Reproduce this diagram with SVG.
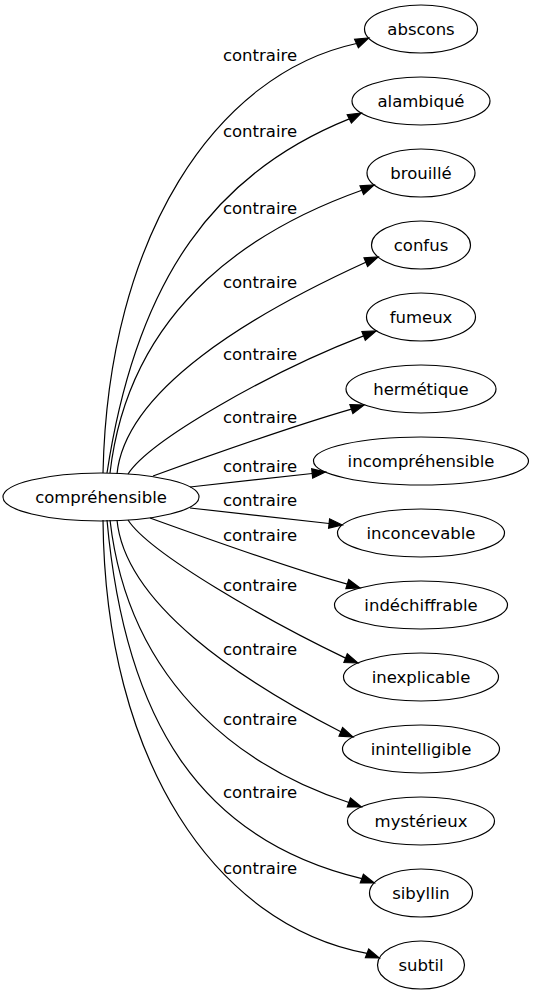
<svg xmlns="http://www.w3.org/2000/svg" width="534" height="995" viewBox="0 0 534 995">
<style>
.n ellipse{fill:none;stroke:#000;stroke-width:1.2}
text{font-family:"DejaVu Sans",sans-serif;font-size:16.5px;fill:#000}
.n text{text-anchor:middle}
.e path{fill:none;stroke:#000;stroke-width:1.2}
.e polygon{fill:#000;stroke:#000;stroke-width:1.2}
.l text{text-anchor:middle}
</style>
<rect width="534" height="995" fill="#fff"/>
<g id="edges" class="e">
<path d="M103,473 C108,236 216,74 356.5,43.5"/><polygon points="368.6,38 358.4,47.7 354.6,39.2"/>
<path d="M107,473 C137,275 217.8,171.8 349.3,118.9"/><polygon points="361.2,113 351.4,123.1 347.2,114.7"/>
<path d="M110,473 C130,300 264,225 361.8,190.2"/><polygon points="374,185 363.6,194.5 360,185.9"/>
<path d="M117,474 C125,390 250,315 365.8,262.2"/><polygon points="378,257 367.6,266.5 364,257.9"/>
<path d="M128,474 C150,440 270,372 363.6,335.9"/><polygon points="376,331 365.3,340.3 361.9,331.5"/>
<path d="M153,476 C200,459 300,424 351.4,409.1"/><polygon points="364,405 352.9,413.6 349.9,404.6"/>
<path d="M190,487 L312.2,473.5"/><polygon points="325.4,472 312.7,478.2 311.7,468.8"/>
<path d="M190,508 L329.1,523.5"/><polygon points="342.3,525 328.6,528.2 329.6,518.8"/>
<path d="M150,518 C197,535 298,571 347.3,584.1"/><polygon points="360,588 345.9,588.6 348.7,579.6"/>
<path d="M128,520 C150,554 270,622 345.6,658.1"/><polygon points="358,663 343.9,662.5 347.3,653.7"/>
<path d="M117,520 C125,604 240,680 340.8,731.8"/><polygon points="353,737 339,736.1 342.6,727.5"/>
<path d="M110,520 C130,694 255,772 348.9,802.5"/><polygon points="361.4,807 347.3,806.9 350.5,798.1"/>
<path d="M107,520 C125,720 200,840 361.8,878.6"/><polygon points="374.3,883 360.3,883 363.4,874.2"/>
<path d="M103,520 C105,760 215,925 367,953.3"/><polygon points="379.4,958 365.4,957.7 368.7,948.9"/>
</g>
<g id="edge-labels" class="l">
<text x="260" y="61">contraire</text>
<text x="260" y="137">contraire</text>
<text x="260" y="214">contraire</text>
<text x="260" y="288">contraire</text>
<text x="260" y="360">contraire</text>
<text x="260" y="423">contraire</text>
<text x="260" y="472">contraire</text>
<text x="260" y="506">contraire</text>
<text x="260" y="541">contraire</text>
<text x="260" y="591">contraire</text>
<text x="260" y="655">contraire</text>
<text x="260" y="725">contraire</text>
<text x="260" y="798">contraire</text>
<text x="260" y="874">contraire</text>
</g>
<g id="comprehensible" class="n"><ellipse cx="101" cy="497" rx="98" ry="24"/><text x="101" y="502.5">compréhensible</text></g>
<g id="abscons" class="n"><ellipse cx="421" cy="29" rx="56.5" ry="24"/><text x="421" y="34.5">abscons</text></g>
<g id="alambique" class="n"><ellipse cx="421" cy="101" rx="69" ry="24"/><text x="421" y="106.5">alambiqué</text></g>
<g id="brouille" class="n"><ellipse cx="421" cy="173" rx="54" ry="24"/><text x="421" y="178.5">brouillé</text></g>
<g id="confus" class="n"><ellipse cx="421" cy="245" rx="49.5" ry="24"/><text x="421" y="250.5">confus</text></g>
<g id="fumeux" class="n"><ellipse cx="421" cy="317" rx="54.5" ry="24"/><text x="421" y="322.5">fumeux</text></g>
<g id="hermetique" class="n"><ellipse cx="421" cy="389" rx="75" ry="24"/><text x="421" y="394.5">hermétique</text></g>
<g id="incomprehensible" class="n"><ellipse cx="421" cy="461" rx="107.5" ry="24"/><text x="421" y="466.5">incompréhensible</text></g>
<g id="inconcevable" class="n"><ellipse cx="421" cy="533" rx="83.5" ry="24"/><text x="421" y="538.5">inconcevable</text></g>
<g id="indechiffrable" class="n"><ellipse cx="421" cy="605" rx="86.5" ry="24"/><text x="421" y="610.5">indéchiffrable</text></g>
<g id="inexplicable" class="n"><ellipse cx="421" cy="677" rx="77.5" ry="24"/><text x="421" y="682.5">inexplicable</text></g>
<g id="inintelligible" class="n"><ellipse cx="421" cy="749" rx="78.5" ry="24"/><text x="421" y="754.5">inintelligible</text></g>
<g id="mysterieux" class="n"><ellipse cx="421" cy="821" rx="73.5" ry="24"/><text x="421" y="826.5">mystérieux</text></g>
<g id="sibyllin" class="n"><ellipse cx="421" cy="893" rx="51.5" ry="24"/><text x="421" y="898.5">sibyllin</text></g>
<g id="subtil" class="n"><ellipse cx="421" cy="965" rx="43.5" ry="24"/><text x="421" y="970.5">subtil</text></g>
</svg>
